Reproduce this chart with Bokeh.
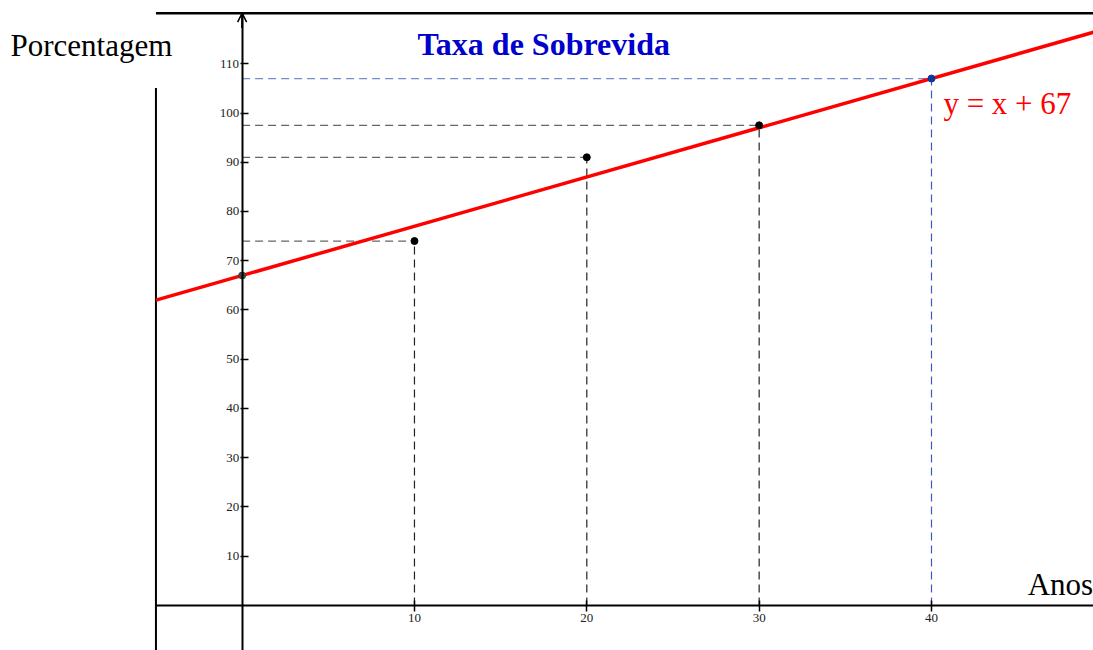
from bokeh.plotting import figure
from bokeh.models import LinearAxis, FixedTicker, Label, Arrow, OpenHead, Range1d
from bokeh.embed import file_html
from bokeh.resources import INLINE

# ---- data ----
anos = [0, 10, 20, 30, 40]
taxa = [67, 74, 91, 97.5, 107]
slope = 1
intercept = 67
x_ticks = [10, 20, 30, 40]
y_ticks = [10, 20, 30, 40, 50, 60, 70, 80, 90, 100, 110]
titulo = "Taxa de Sobrevida"
eixo_y = "Porcentagem"
eixo_x = "Anos"
equacao = "y = x + 67"

SERIF = "Liberation Serif"

X0, X1 = -14.02, 49.40
Y0, Y1 = -9.16, 122.85
LEFT = -5
TOP = 120.27
DY = 2.0  # text baseline correction

p = figure(width=1093, height=650, output_backend="svg", toolbar_location=None,
           x_range=Range1d(X0, X1), y_range=Range1d(Y0, Y1),
           x_axis_location=None, y_axis_location=None, min_border=0)
p.outline_line_color = None
p.xgrid.visible = False
p.ygrid.visible = False
p.background_fill_color = "white"
p.border_fill_color = "white"

# decorative frame lines
p.segment(x0=[LEFT], y0=[TOP], x1=[X1], y1=[TOP], line_color="black", line_width=2.5)
p.segment(x0=[LEFT], y0=[105.1], x1=[LEFT], y1=[Y0], line_color="black", line_width=2)

# dashed guide lines
xs_black = anos[1:4]
ys_black = taxa[1:4]
p.segment(x0=[0] * len(xs_black), y0=ys_black, x1=xs_black, y1=ys_black,
          line_color="#666666", line_width=1.2, line_dash="8 5")
p.segment(x0=xs_black, y0=[0] * len(xs_black), x1=xs_black, y1=ys_black,
          line_color="#222222", line_width=1.2, line_dash="8 5")
p.segment(x0=[0], y0=[taxa[4]], x1=[anos[4]], y1=[taxa[4]],
          line_color="#6f8fd0", line_width=1.2, line_dash="8 5")
p.segment(x0=[anos[4]], y0=[0], x1=[anos[4]], y1=[taxa[4]],
          line_color="#3a5cc8", line_width=1.2, line_dash="8 5")

# regression line
lx = [LEFT, X1 + 1]
ly = [slope * v + intercept for v in lx]
p.line(lx, ly, line_color="#ff0000", line_width=3.5)

# points
colors = ["#444444", "black", "black", "black", "#0a3aa0"]
p.scatter(anos, taxa, size=7, fill_color=colors, line_color=colors)

# axes
xaxis = LinearAxis(fixed_location=0, bounds=(LEFT, X1),
                   ticker=FixedTicker(ticks=x_ticks))
xaxis.axis_line_width = 2
xaxis.major_tick_in = 5
xaxis.major_tick_out = 6
xaxis.major_tick_line_width = 1.5
xaxis.minor_tick_line_color = None
xaxis.major_label_text_font = SERIF
xaxis.major_label_text_font_size = "13px"
xaxis.major_label_text_color = "#222222"
xaxis.major_label_standoff = 3
p.add_layout(xaxis, "below")

yaxis = LinearAxis(fixed_location=0, bounds=(Y0, TOP),
                   ticker=FixedTicker(ticks=y_ticks))
yaxis.axis_line_width = 2
yaxis.major_tick_in = 6
yaxis.major_tick_out = 2
yaxis.major_tick_line_width = 1.5
yaxis.minor_tick_line_color = None
yaxis.major_label_text_font = SERIF
yaxis.major_label_text_font_size = "13px"
yaxis.major_label_text_color = "#222222"
yaxis.major_label_standoff = 1
p.add_layout(yaxis, "left")

p.add_layout(Arrow(end=OpenHead(size=9, line_width=1.5, line_color="black"),
                   x_start=0, y_start=TOP - 3, x_end=0, y_end=TOP,
                   line_color="black", line_width=2))

# texts
p.add_layout(Label(x=17.5, y=112.1 + DY, text=titulo, text_align="center",
                   text_baseline="alphabetic", text_font=SERIF,
                   text_font_style="bold", text_font_size="32px",
                   text_color="#0000cc"))
p.add_layout(Label(x=-13.44, y=111.8 + DY, text=eixo_y, text_align="left",
                   text_baseline="alphabetic", text_font=SERIF,
                   text_font_size="31px", text_color="black"))
p.add_layout(Label(x=49.38, y=1.8 + DY + 0.4, text=eixo_x, text_align="right",
                   text_baseline="alphabetic", text_font=SERIF,
                   text_font_size="31px", text_color="black"))
p.add_layout(Label(x=40.69, y=99.9 + DY, text=equacao, text_align="left",
                   text_baseline="alphabetic", text_font=SERIF,
                   text_font_size="31px", text_color="#ff0000"))

open("out.html", "w").write(file_html(p, INLINE))
